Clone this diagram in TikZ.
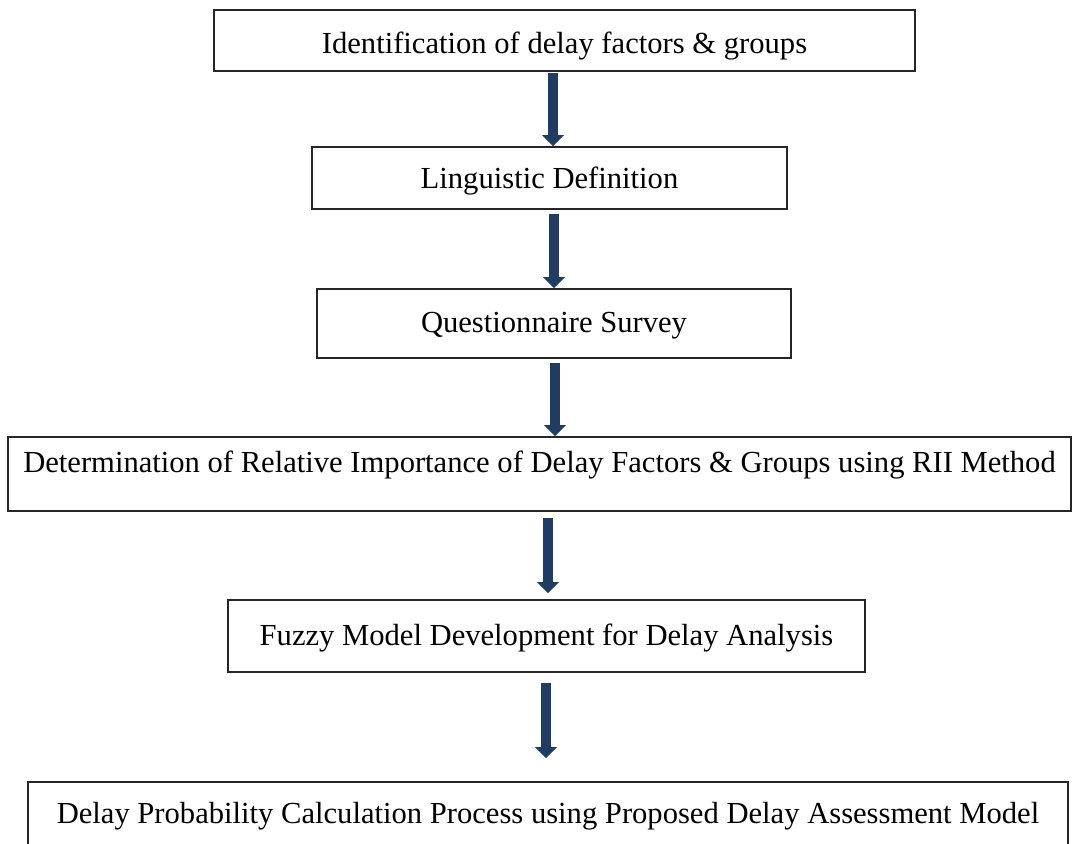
\documentclass[tikz,border=0pt]{standalone}
\usepackage{fontspec}
\setmainfont{Liberation Serif}
\usetikzlibrary{arrows.meta,calc}
\definecolor{flowblue}{RGB}{33,60,99}
\begin{document}
\begin{tikzpicture}[x=0.5pt,y=-0.5pt,
  stage/.style={draw=black!85,line width=0.8pt,rectangle,inner sep=0pt,
    font=\fontsize{15.3pt}{18pt}\selectfont,text height=14pt},
  flow/.style={draw=flowblue,line width=5pt,
    -{Triangle[length=5.5pt,width=10.5pt]}}]
\useasboundingbox (0,0) rectangle (1072,843);

% process stages, top to bottom
\node[stage,minimum width=350.5pt,minimum height=30.5pt,text depth=1.5pt]
  (b1) at (564.5,40.5) {Identification of delay factors \& groups};
\node[stage,minimum width=237.5pt,minimum height=31pt,text depth=4pt]
  (b2) at (549.5,178) {Linguistic Definition};
\node[stage,minimum width=237pt,minimum height=34.5pt,text depth=5.5pt]
  (b3) at (554,323.5) {Questionnaire Survey};
\node[stage,minimum width=531.5pt,minimum height=37pt,text depth=15.3pt]
  (b4) at (539.5,474) {Determination of Relative Importance of Delay Factors \& Groups using RII Method};
\node[stage,minimum width=318.5pt,minimum height=36pt,text depth=5pt]
  (b5) at (546.5,636) {Fuzzy Model Development for Delay Analysis};
\node[stage,minimum width=520pt,minimum height=44pt,text depth=17pt]
  (b6) at (548,826) {Delay Probability Calculation Process using Proposed Delay Assessment Model};

% columns of the connecting arrows
\coordinate (c1) at (553,0);
\coordinate (c2) at (554,0);
\coordinate (c3) at (555,0);
\coordinate (c4) at (548,0);
\coordinate (c5) at (546,0);

\draw[flow] ($(c1 |- b1.south)+(0,1)$) -- (c1 |- b2.north);
\draw[flow] ($(c2 |- b2.south)+(0,4)$) -- (c2 |- b3.north);
\draw[flow] ($(c3 |- b3.south)+(0,4)$) -- (c3 |- b4.north);
\draw[flow] ($(c4 |- b4.south)+(0,6)$) -- ($(c4 |- b5.north)+(0,-6)$);
\draw[flow] ($(c5 |- b5.south)+(0,10)$) -- ($(c5 |- b6.north)+(0,-23)$);
\end{tikzpicture}
\end{document}
